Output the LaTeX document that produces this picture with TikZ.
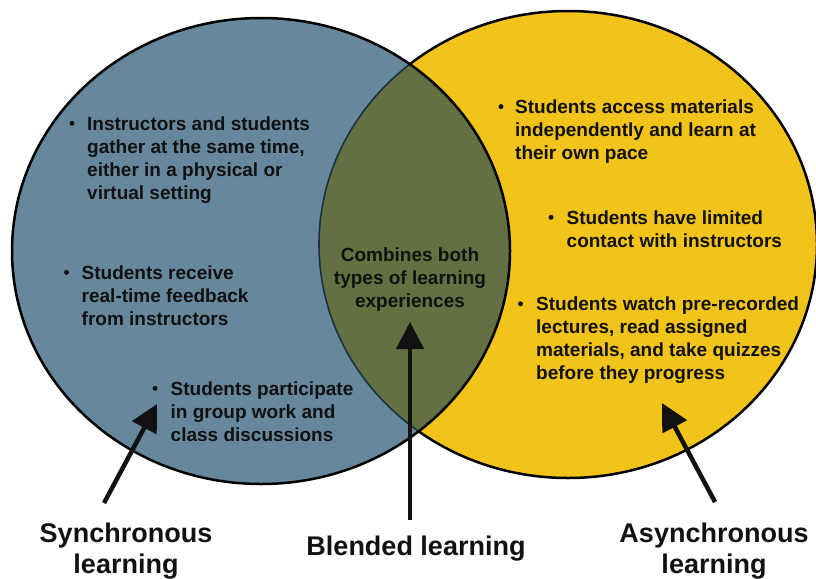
\documentclass[tikz,border=0pt]{standalone}
\usepackage{fontspec}
\setmainfont{Liberation Sans}
\usetikzlibrary{arrows.meta}
\definecolor{syncblue}{HTML}{67879C}
\definecolor{asyncyellow}{HTML}{F2C319}
\definecolor{blendgreen}{HTML}{627042}
\definecolor{lensedge}{HTML}{1B3043}
\definecolor{ink}{HTML}{111111}
\begin{document}
\begin{tikzpicture}[x=1pt,y=-1pt,
  item/.style={anchor=north west, inner sep=0pt, align=left,
    font=\fontsize{19}{23}\selectfont\bfseries, text=ink},
  middle/.style={anchor=north, inner sep=0pt, align=center,
    font=\fontsize{19}{23}\selectfont\bfseries, text=ink},
  dot/.style={circle, fill=ink, inner sep=0pt, minimum size=5pt},
  title/.style={anchor=north, inner sep=0pt, align=center,
    font=\fontsize{27}{31.5}\selectfont\bfseries, text=ink},
  pointer/.style={line width=4.5pt, draw=ink, -{Triangle[length=27pt,width=27pt]}}
]
\useasboundingbox (0,0) rectangle (816,578);

% circles: synchronous (left) and asynchronous (right)
\fill[syncblue] (261,251) ellipse [x radius=249, y radius=233];
\fill[asyncyellow] (568,244.5) ellipse [x radius=249, y radius=233.5];
\draw[line width=2.5pt, black] (568,244.5) ellipse [x radius=249, y radius=233.5];
\begin{scope}
  \clip (261,251) ellipse [x radius=249, y radius=233];
  \fill[syncblue] (261,251) ellipse [x radius=249, y radius=233];
  \fill[blendgreen] (568,244.5) ellipse [x radius=249, y radius=233.5];
  \draw[line width=1.6pt, lensedge] (568,244.5) ellipse [x radius=249, y radius=233.5];
\end{scope}
\draw[line width=2.5pt, black] (261,251) ellipse [x radius=249, y radius=233];

% synchronous items
\node[dot] (b1) at (72,123.3) {};
\node[item] (s1) at (87,116.4) {Instructors and students\\gather at the same time,\\either in a physical or\\virtual setting};
\node[dot] (b2) at (66.5,272.3) {};
\node[item] (s2) at (81.5,265.4) {Students receive\\real-time feedback\\from instructors};
\node[dot] (b3) at (155,388.3) {};
\node[item] (s3) at (170.5,381.4) {Students participate\\in group work and\\class discussions};

% blended
\node[middle] (m1) at (410,247.4) {Combines both\\types of learning\\experiences};

% asynchronous items
\node[dot] (b4) at (501,106.6) {};
\node[item] (a1) at (515,99.7) {Students access materials\\independently and learn at\\their own pace};
\node[dot] (b5) at (551,217.3) {};
\node[item] (a2) at (566.5,210.4) {Students have limited\\contact with instructors};
\node[dot] (b6) at (520.5,303.8) {};
\node[item] (a3) at (536,296.9) {Students watch pre-recorded\\lectures, read assigned\\materials, and take quizzes\\before they progress};

% titles
\node[title] (tsync) at (126,522.4) {Synchronous\\learning};
\node[title] (tblend) at (416,535.7) {Blended learning};
\node[title] (tasync) at (714,522.4) {Asynchronous\\learning};

% pointers
\coordinate (p1) at (104,503);
\coordinate (q1) at (157,404);
\coordinate (p2) at (410,520);
\coordinate (q2) at (410,322);
\coordinate (p3) at (715,502);
\coordinate (q3) at (662,403);
\draw[pointer] (p1) -- (q1);
\draw[pointer] (p2) -- (q2);
\draw[pointer] (p3) -- (q3);
\end{tikzpicture}
\end{document}
